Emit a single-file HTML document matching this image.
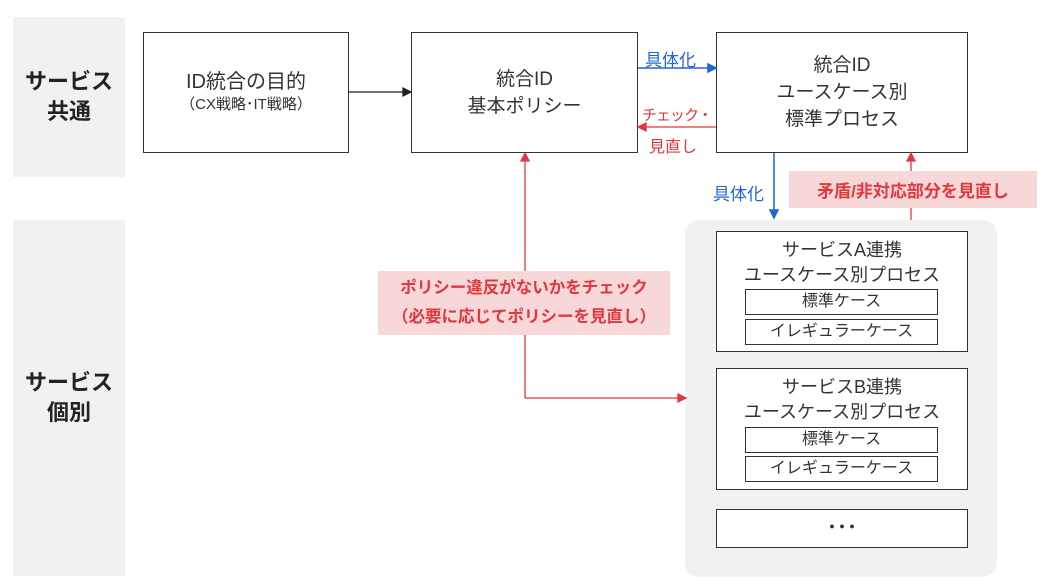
<!DOCTYPE html>
<html><head><meta charset="utf-8"><style>
body{margin:0;width:1050px;height:588px;background:#fff;position:relative;overflow:hidden;font-family:"Liberation Sans","Noto Sans CJK JP",sans-serif;color:#222}
div{position:absolute;box-sizing:border-box}
.band{background:#f1f1f1}
.lbl{font-weight:bold;font-size:22px;line-height:30px;text-align:center;display:flex;align-items:center;justify-content:center}
.box{border:1.5px solid #333;background:#fff;display:flex;flex-direction:column;align-items:center;justify-content:center;text-align:center;font-size:18px;line-height:25px;color:#333}
.sub{border:1.5px solid #333;background:#fff;font-size:16px;text-align:center;line-height:24px;color:#333}
.pink{background:#f8d7d8;color:#e0383e;font-weight:bold;text-align:center;display:flex;align-items:center;justify-content:center}
.blue{color:#1f64d6;font-size:16px}
.red{color:#e0383e;font-size:15px;letter-spacing:-1px}
svg{position:absolute;left:0;top:0}
</style></head><body>
<div class="band lbl" style="left:13px;top:17px;width:112px;height:160px">サービス<br>共通</div>
<div class="band lbl" style="left:13px;top:220px;width:112px;height:356px">サービス<br>個別</div>
<div style="left:685px;top:220px;width:312px;height:357px;background:#f1f1f1;border-radius:14px"></div>

<div class="box" style="left:143px;top:32px;width:206px;height:121px"><span style="font-size:20px">ID統合の目的</span><span style="font-size:15px;line-height:20px">（CX戦略･IT戦略）</span></div>
<div class="box" style="left:411px;top:32px;width:227px;height:121px;font-size:19px;line-height:27px">統合ID<br>基本ポリシー</div>
<div class="box" style="left:716px;top:32px;width:252px;height:121px;font-size:19px;line-height:27px">統合ID<br>ユースケース別<br>標準プロセス</div>

<div class="box" style="left:716px;top:231px;width:252px;height:121px;justify-content:flex-start;padding-top:6px">サービスA連携<br>ユースケース別プロセス</div>
<div class="sub" style="left:745px;top:289px;width:193px;height:26px">標準ケース</div>
<div class="sub" style="left:745px;top:319px;width:193px;height:26px">イレギュラーケース</div>

<div class="box" style="left:716px;top:368px;width:252px;height:122px;justify-content:flex-start;padding-top:6px">サービスB連携<br>ユースケース別プロセス</div>
<div class="sub" style="left:745px;top:427px;width:193px;height:26px">標準ケース</div>
<div class="sub" style="left:745px;top:456px;width:193px;height:26px">イレギュラーケース</div>

<div class="box" style="left:716px;top:509px;width:252px;height:39px;font-size:20px;font-weight:bold">･･･</div>

<div class="pink" style="left:378px;top:271px;width:292px;height:64px;font-size:16.5px;line-height:29px">ポリシー違反がないかをチェック<br>（必要に応じてポリシーを見直し）</div>
<div class="pink" style="left:789px;top:171px;width:248px;height:37px;font-size:17px">矛盾/非対応部分を見直し</div>

<div class="blue" style="left:645px;top:46px;font-size:17px">具体化</div>
<div class="blue" style="left:713px;top:180px;font-size:17px">具体化</div>
<div class="red" style="left:642px;top:104px">チェック・</div>
<div class="red" style="left:649px;top:133px;font-size:16px;letter-spacing:0">見直し</div>

<svg width="1050" height="588">
<g stroke="#222" stroke-width="1.3" fill="#222"><line x1="349" y1="92" x2="404" y2="92"/><polygon points="411,92 403,88 403,96"/></g>
<g stroke="#1f64d6" stroke-width="1.5" fill="#1f64d6">
<line x1="638" y1="68" x2="709" y2="68"/><polygon points="716,68 708,64 708,72"/>
<line x1="774" y1="153" x2="774" y2="211"/><polygon points="774,218 770,210 778,210"/></g>
<g stroke="#e0383e" stroke-width="1.3" fill="#e0383e">
<line x1="716" y1="127" x2="645" y2="127"/><polygon points="638,127 646,123 646,131"/>
<line x1="911" y1="220" x2="911" y2="208"/><line x1="911" y1="171" x2="911" y2="160"/><polygon points="911,153 907,161 915,161"/>
<line x1="525" y1="160" x2="525" y2="271"/><line x1="525" y1="335" x2="525" y2="398"/><line x1="525" y1="398" x2="678" y2="398"/>
<polygon points="525,153 521,161 529,161"/><polygon points="686,398 678,394 678,402"/></g>
</svg>
</body></html>
